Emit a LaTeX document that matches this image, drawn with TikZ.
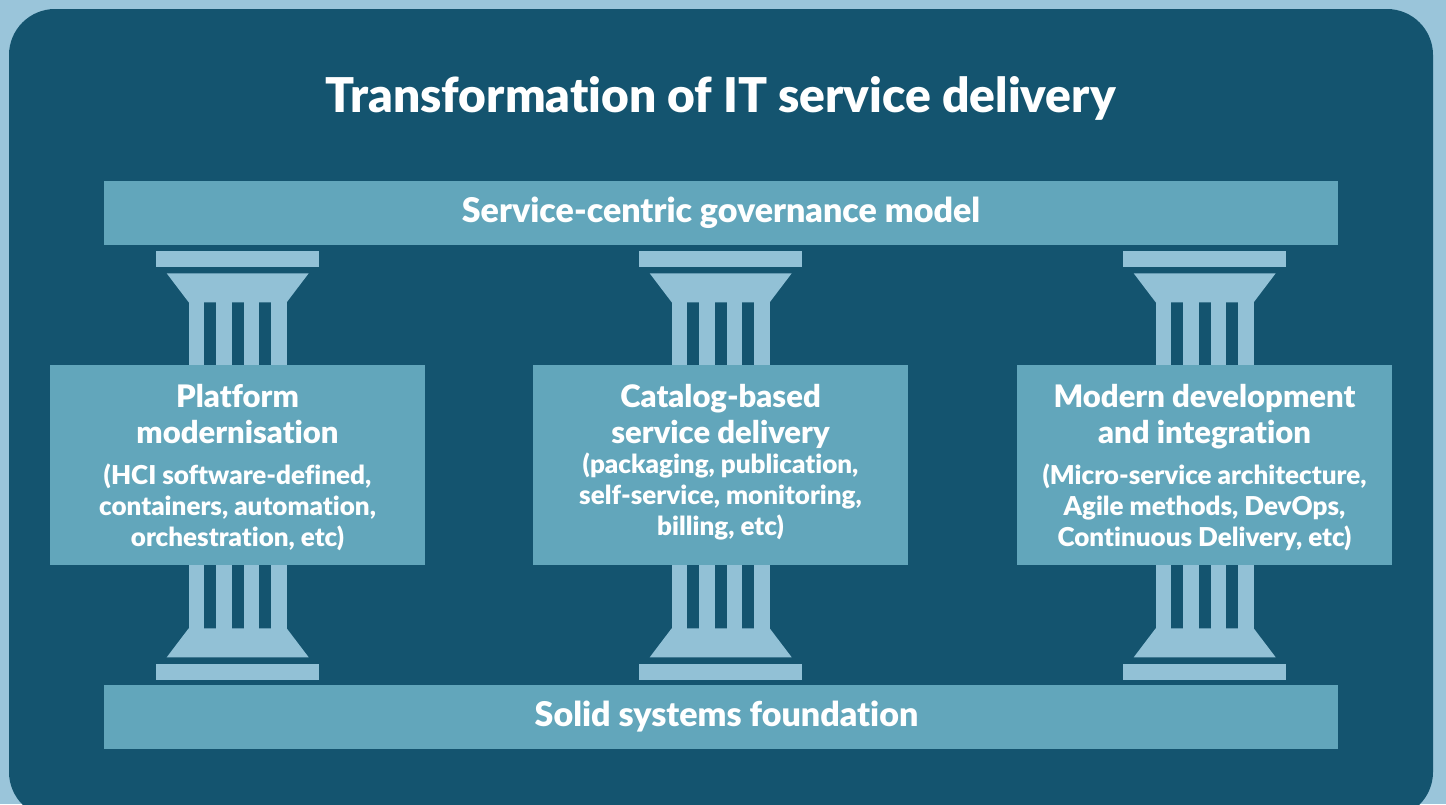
\documentclass[tikz,border=0pt]{standalone}
\usepackage{fontspec}
\setmainfont[Ligatures=NoCommon,BoldFont={Lato Black},BoldFeatures={Ligatures=NoCommon}]{Lato}
\definecolor{paleblue}{HTML}{9AC5DA}
\definecolor{deepblue}{HTML}{14546F}
\definecolor{midblue}{HTML}{62A6BB}
\definecolor{pillarblue}{HTML}{92C1D6}
\tikzset{
  beam/.style={fill=midblue,minimum width=1234pt,minimum height=64pt,inner sep=0pt},
  beamtext/.style={text=white,inner sep=0pt,font=\fontsize{34}{36}\selectfont\bfseries},
  panel/.style={fill=midblue,minimum width=375pt,minimum height=200pt,inner sep=0pt},
  paneltext/.style={text=white,align=center,inner sep=0pt,font=\fontsize{26}{31}\selectfont\bfseries},
  pillarpart/.style={fill=pillarblue}
}
\newcommand{\headline}[1]{{\fontsize{31}{36}\selectfont #1}}
\begin{document}
\begin{tikzpicture}[x=1pt,y=-1pt]
\useasboundingbox (0,0) rectangle (1446,804);
\fill[paleblue] (0,0) rectangle (1446,804);
\begin{scope}
\clip (0,0) rectangle (1446,804);
\fill[deepblue,rounded corners=46pt] (9,9) rectangle (1433,818);
\end{scope}

\node[text=white,font=\fontsize{47.9}{54}\selectfont\bfseries] (title) at (720.5,98) {Transformation of IT service delivery};

% pillars
\foreach \px in {0,483,967} {
\begin{scope}[xshift=\px pt]
\fill[pillarpart] (156,251) rectangle (319,267);
\fill[pillarpart] (166.7,273.3) -- (308.7,273.3) -- (286.7,302.3) -- (188.7,302.3) -- cycle;
\fill[pillarpart] (156,664) rectangle (319,680);
\fill[pillarpart] (166.7,657.3) -- (308.7,657.3) -- (286.7,628.3) -- (188.7,628.3) -- cycle;
\foreach \cx in {188.7,216,243.7,271.3}
  \fill[pillarpart] (\cx,302) rectangle (\cx+15.6,629);
\end{scope}
}

\node[beam] (governance) at (721,213) {};
\node[beam] (foundation) at (721,717) {};
\node[beamtext] (governancetext) at (721,213) {Service-centric governance model};
\node[beamtext] (foundationtext) at (726.5,717) {Solid systems foundation};

\node[panel] (platform) at (237.5,465) {};
\node[panel] (catalog) at (720.5,465) {};
\node[panel] (modern) at (1204.5,465) {};

\node[paneltext] (platformtext) at (237.5,467.5) {\headline{Platform}\\[5pt]\headline{modernisation}\\[10pt](HCI software-defined,\\containers, automation,\\orchestration, etc)};
\node[paneltext] (catalogtext) at (720.5,462) {\headline{Catalog-based}\\[5pt]\headline{service delivery}\\[-1pt](packaging, publication,\\self-service, monitoring,\\billing, etc)};
\node[paneltext] (moderntext) at (1204.5,467.5) {\headline{Modern development}\\[5pt]\headline{and integration}\\[10pt](Micro-service architecture,\\Agile methods, DevOps,\\Continuous Delivery, etc)};
\end{tikzpicture}
\end{document}
